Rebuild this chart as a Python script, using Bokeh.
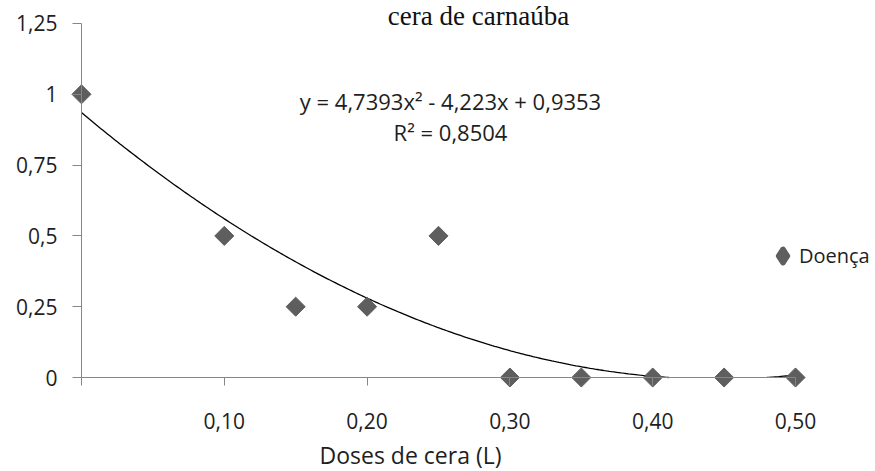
import numpy as np
from bokeh.plotting import figure
from bokeh.models import (Range1d, FixedTicker, Label, Legend, LegendItem,
                          ColumnDataSource)
from bokeh.embed import file_html
from bokeh.resources import INLINE

# ---- data ----
doses = [0.0, 0.10, 0.15, 0.20, 0.25, 0.30, 0.35, 0.40, 0.45, 0.50]
doenca = [1.0, 0.5, 0.25, 0.25, 0.5, 0.0, 0.0, 0.0, 0.0, 0.0]

# trend line coefficients (as printed on the chart): y = a x^2 + b x + c
trend_coef = [4.7393, -4.223, 0.9353]
trend_label = "y = 4,7393x² - 4,223x + 0,9353"
r2_label = "R² = 0,8504"

x_ticks = [0.0, 0.10, 0.20, 0.30, 0.40, 0.50]
x_tick_labels = ["", "0,10", "0,20", "0,30", "0,40", "0,50"]
y_ticks = [0.0, 0.25, 0.5, 0.75, 1.0, 1.25]
y_tick_labels = ["0", "0,25", "0,5", "0,75", "1", "1,25"]

title_text = "cera de carnaúba"
x_title = "Doses de cera (L)"
series_name = "Doença"

SANS = "Open Sans"
AXIS_GRAY = "#868686"
MARK = "#5e5e5e"
TXT = "#1e1e1e"

# the frame covers the whole canvas so that nothing is clipped;
# the axes are pinned at x=0 and y=0
p = figure(width=875, height=471, output_backend="svg", toolbar_location=None,
           x_range=Range1d(-0.0567, 0.5560), y_range=Range1d(-0.3319, 1.3312),
           min_border_left=0, min_border_right=0, min_border_top=0,
           min_border_bottom=0)
p.outline_line_color = None
p.xgrid.visible = False
p.ygrid.visible = False
p.background_fill_color = "white"
p.border_fill_color = "white"

# axes
xa = p.xaxis[0]
xa.fixed_location = 0
xa.bounds = (0, 0.5)
xa.ticker = FixedTicker(ticks=x_ticks)
xa.major_label_overrides = {t: l for t, l in zip(x_ticks, x_tick_labels)}
xa.minor_tick_line_color = None
xa.major_tick_in = 0
xa.major_tick_out = 8
xa.major_label_standoff = 27
xa.axis_line_color = AXIS_GRAY
xa.major_tick_line_color = AXIS_GRAY
xa.major_label_text_font = SANS
xa.major_label_text_font_size = "21px"
xa.major_label_text_color = TXT

ya = p.yaxis[0]
ya.fixed_location = 0
ya.bounds = (0, 1.25)
ya.ticker = FixedTicker(ticks=y_ticks)
ya.major_label_overrides = {t: l for t, l in zip(y_ticks, y_tick_labels)}
ya.minor_tick_line_color = None
ya.major_tick_in = 0
ya.major_tick_out = 9
ya.major_label_standoff = 15
ya.axis_line_color = AXIS_GRAY
ya.major_tick_line_color = AXIS_GRAY
ya.major_label_text_font = SANS
ya.major_label_text_font_size = "21px"
ya.major_label_text_color = TXT

# trend line (Excel clips it at the x axis)
tx = np.linspace(doses[0], doses[-1], 300)
ty = np.polyval(trend_coef, tx)
ty = np.where(ty >= 0, ty, np.nan)
p.line(tx, ty, line_color="black", line_width=1.3)

# data points (diamonds)
src = ColumnDataSource(dict(x=doses, y=doenca))
p.scatter("x", "y", source=src, marker="square", size=13.5, angle=np.pi / 4,
          fill_color=MARK, line_color=MARK)

# legend key renderer (holds no visible point, only draws the key)
key = p.scatter(x=[np.nan], y=[np.nan], marker="diamond", size=13,
                fill_color=MARK, line_color=MARK, line_width=5.5,
                line_join="round")
legend = Legend(items=[LegendItem(label=series_name, renderers=[key])],
                location=(766, 199), glyph_width=33, glyph_height=33,
                label_standoff=-18, padding=0, margin=0, spacing=0,
                border_line_color=None, background_fill_alpha=0,
                label_text_font=SANS, label_text_font_size="20px",
                label_text_color=TXT)
p.add_layout(legend, "center")

# texts
p.add_layout(Label(x=0.2584, y=0.978, text=trend_label, text_align="center",
                   text_baseline="middle", text_font=SANS, text_font_size="22px",
                   text_color=TXT))
p.add_layout(Label(x=0.2584, y=0.8686, text=r2_label, text_align="center",
                   text_baseline="middle", text_font=SANS, text_font_size="22px",
                   text_color=TXT))
p.add_layout(Label(x=0.278, y=1.329, text=title_text, text_align="center",
                   text_baseline="top", text_font="Liberation Serif",
                   text_font_size="27px", text_color="#111111"))
p.add_layout(Label(x=0.2304, y=-0.2725, text=x_title, text_align="center",
                   text_baseline="middle", text_font=SANS, text_font_size="23px",
                   text_color=TXT))

open("out.html", "w").write(file_html(p, INLINE))
